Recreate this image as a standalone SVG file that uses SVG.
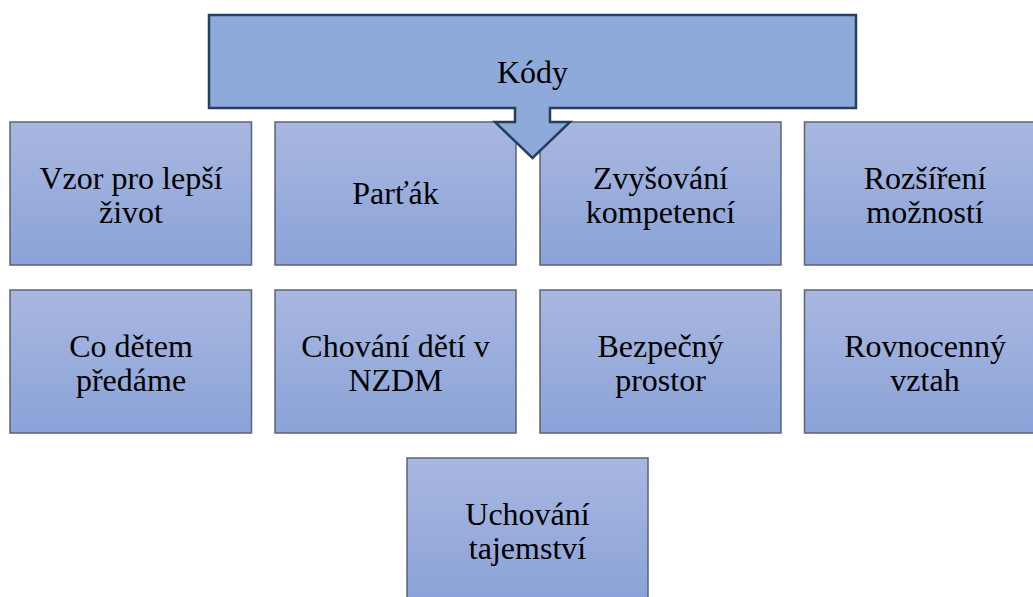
<svg xmlns="http://www.w3.org/2000/svg" width="1033" height="597" viewBox="0 0 1033 597">
<defs>
<linearGradient id="g" x1="0" y1="0" x2="0" y2="1">
<stop offset="0" stop-color="#A9B7E0"/>
<stop offset="1" stop-color="#8AA3D8"/>
</linearGradient>
<style>
.box{fill:url(#g);stroke:#5B6373;stroke-width:1.5}
.t{font-size:32px;fill:#000;text-anchor:middle}
.call{fill:#8EAADB;stroke:#243F60;stroke-width:2.5;stroke-linejoin:miter}
</style>
</defs>
<rect width="1033" height="597" fill="#fff"/>
<g font-family="Liberation Serif, DejaVu Serif, serif">
<g id="n1"><rect class="box" x="10" y="122" width="241.5" height="143"/><text class="t" x="131" y="189">Vzor pro lepší</text><text class="t" x="131" y="223">život</text></g>
<g id="n2"><rect class="box" x="275" y="122" width="241" height="143"/><text class="t" x="395.5" y="204">Parťák</text></g>
<g id="n3"><rect class="box" x="540" y="122" width="241" height="143"/><text class="t" x="660.5" y="189">Zvyšování</text><text class="t" x="660.5" y="223">kompetencí</text></g>
<g id="n4"><rect class="box" x="804.5" y="122" width="241" height="143"/><text class="t" x="925" y="189">Rozšíření</text><text class="t" x="925" y="223">možností</text></g>
<g id="n5"><rect class="box" x="10" y="290" width="241.5" height="143"/><text class="t" x="131" y="357">Co dětem</text><text class="t" x="131" y="391">předáme</text></g>
<g id="n6"><rect class="box" x="275" y="290" width="241" height="143"/><text class="t" x="395.5" y="357">Chování dětí v</text><text class="t" x="395.5" y="391">NZDM</text></g>
<g id="n7"><rect class="box" x="540" y="290" width="241" height="143"/><text class="t" x="660.5" y="357">Bezpečný</text><text class="t" x="660.5" y="391">prostor</text></g>
<g id="n8"><rect class="box" x="804.5" y="290" width="241" height="143"/><text class="t" x="925" y="357">Rovnocenný</text><text class="t" x="925" y="391">vztah</text></g>
<g id="n9"><rect class="box" x="407" y="458" width="241" height="143"/><text class="t" x="527.5" y="525">Uchování</text><text class="t" x="527.5" y="559">tajemství</text></g>
<g id="connectors">
<g id="n0"><path class="call" d="M209,15 H856 V108 H550 V122 H570 L532.5,158 L495,122 H515 V108 H209 Z"/><text class="t" x="532.5" y="83">Kódy</text></g>
</g>
</g>
</svg>
